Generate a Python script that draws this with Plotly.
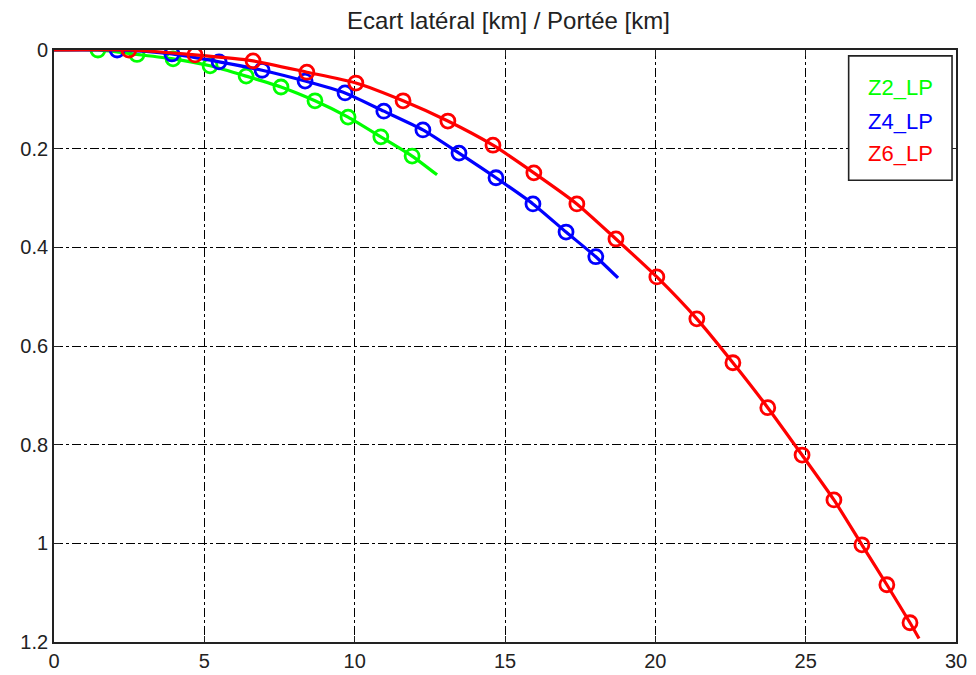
import plotly.graph_objects as go

# ---- data (km) ----
z2_x = [0.0, 1.46, 2.76, 3.96, 5.19, 6.39, 7.55, 8.68, 9.78, 10.87, 11.91, 12.74]
z2_y = [0.0, 0.0, 0.009, 0.018, 0.032, 0.053, 0.075, 0.103, 0.136, 0.176, 0.215, 0.253]
z2_marker_x = z2_x[1:-1]
z2_marker_y = z2_y[1:-1]

z4_x = [0.0, 2.10, 3.92, 5.49, 6.92, 8.35, 9.68, 10.97, 12.27, 13.47, 14.70, 15.93, 17.03, 18.02, 18.76]
z4_y = [0.0, 0.0, 0.008, 0.024, 0.041, 0.063, 0.087, 0.124, 0.162, 0.209, 0.259, 0.312, 0.369, 0.419, 0.462]
z4_marker_x = z4_x[1:-1]
z4_marker_y = z4_y[1:-1]

z6_x = [0.0, 2.49, 4.69, 6.62, 8.41, 10.04, 11.61, 13.10, 14.60, 15.96, 17.39, 18.69, 20.05,
        21.38, 22.58, 23.74, 24.88, 25.94, 26.87, 27.70, 28.47, 28.77]
z6_y = [0.0, 0.0, 0.010, 0.022, 0.045, 0.067, 0.103, 0.144, 0.193, 0.249, 0.312, 0.383, 0.460,
        0.545, 0.634, 0.725, 0.821, 0.912, 1.003, 1.084, 1.161, 1.193]
z6_marker_x = z6_x[1:-1]
z6_marker_y = z6_y[1:-1]

series_names = ["Z2_LP", "Z4_LP", "Z6_LP"]
series_colors = ["#00ff00", "#0000ff", "#ff0000"]

x_ticks = [0, 5, 10, 15, 20, 25, 30]
y_ticks = [0, 0.2, 0.4, 0.6, 0.8, 1.0, 1.2]
y_tick_text = ["0", "0.2", "0.4", "0.6", "0.8", "1", "1.2"]

title_text = "Ecart latéral [km] / Portée [km]"

FONT = "Liberation Sans, Arial, sans-serif"

fig = go.Figure()

all_series = [
    (z2_x, z2_y, z2_marker_x, z2_marker_y),
    (z4_x, z4_y, z4_marker_x, z4_marker_y),
    (z6_x, z6_y, z6_marker_x, z6_marker_y),
]

for (lx, ly, mx, my), name, col in zip(all_series, series_names, series_colors):
    fig.add_trace(go.Scatter(x=lx, y=ly, mode="lines", name=name,
                             line=dict(color=col, width=3.2, shape="spline", smoothing=0.6),
                             showlegend=False, hoverinfo="skip"))
    fig.add_trace(go.Scatter(x=mx, y=my, mode="markers", name=name,
                             marker=dict(symbol="circle-open", size=14, color=col,
                                         line=dict(color=col, width=2.8)),
                             showlegend=False))

# legend box (MATLAB style: coloured text only)
fig.add_shape(type="rect", xref="paper", yref="paper",
              x0=0.881, x1=0.9956, y0=0.780, y1=0.990,
              line=dict(color="#222222", width=1.6), fillcolor="white", layer="above")
legend_y = [0.937, 0.880, 0.826]
for name, col, ly in zip(series_names, series_colors, legend_y):
    fig.add_annotation(x=0.938, y=ly, xref="paper", yref="paper", text=name,
                       showarrow=False, xanchor="center", yanchor="middle",
                       font=dict(family=FONT, size=22, color=col))

axis_common = dict(showline=True, mirror="ticks", linecolor="#222222", linewidth=1.8,
                   ticks="inside", ticklen=6, tickcolor="#222222", tickwidth=1,
                   showgrid=True, gridcolor="black", gridwidth=1, griddash="dashdot",
                   zeroline=False, automargin=False,
                   tickfont=dict(family=FONT, size=20, color="#222222"))

fig.update_xaxes(range=[0, 30], tickvals=x_ticks, ticktext=[str(v) for v in x_ticks],
                 **axis_common)
fig.update_yaxes(range=[1.2, 0], tickvals=y_ticks, ticktext=y_tick_text, **axis_common)

# page body has an 8px margin, so the figure is sized/offset to compensate
fig.update_layout(
    width=968, height=667,
    margin=dict(l=46, r=20, t=42, b=33, autoexpand=False),
    paper_bgcolor="white", plot_bgcolor="white",
    title=dict(text=title_text, x=0.517, xanchor="center", y=0.981, yanchor="middle",
               automargin=False,
               font=dict(family=FONT, size=24, color="#222222")),
    showlegend=False,
)

fig.write_html("out.html")
